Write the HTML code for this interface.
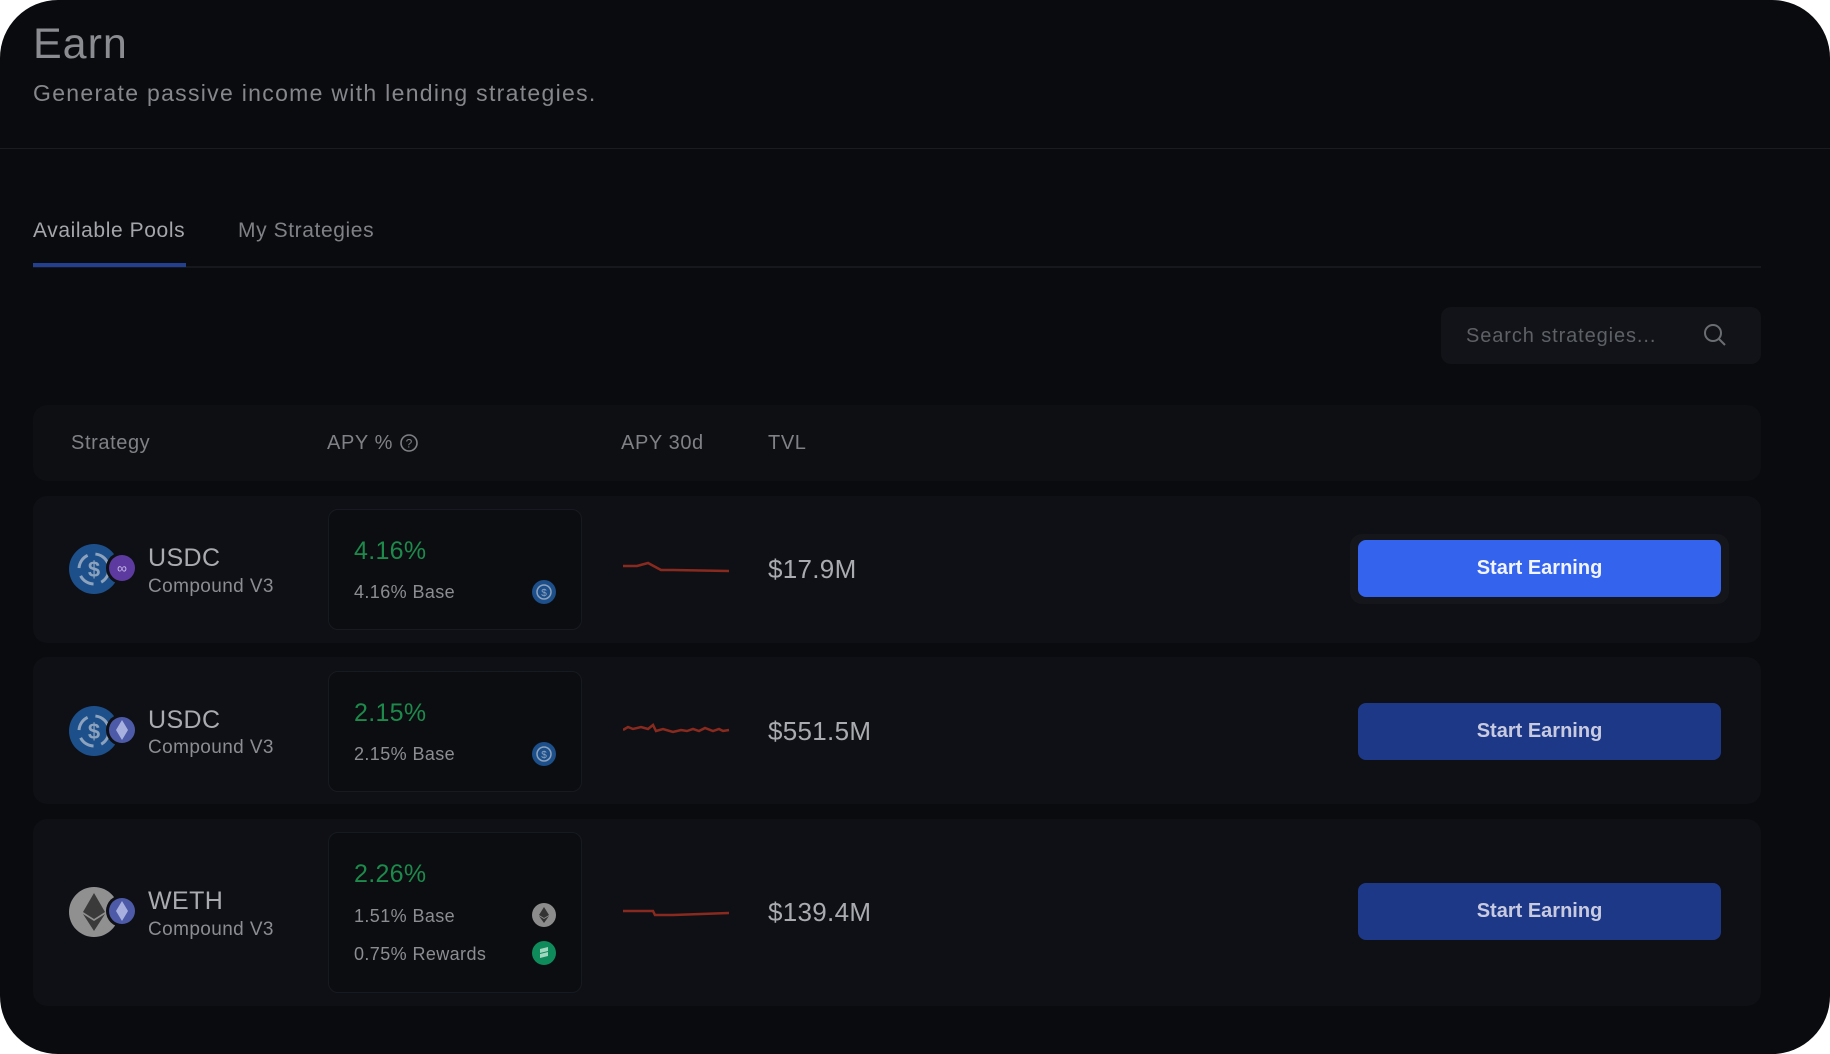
<!DOCTYPE html>
<html><head><meta charset="utf-8"><style>
html,body{margin:0;padding:0;background:#fff;}
body{width:1830px;height:1054px;position:relative;overflow:hidden;font-family:"Liberation Sans",sans-serif;}
.frame{position:absolute;left:0;top:0;width:1830px;height:1054px;background:#0a0b0e;border-radius:58px;overflow:hidden;}
.a{position:absolute;}
.t{position:absolute;white-space:nowrap;line-height:1;letter-spacing:0.6px;}
.row{position:absolute;left:33px;width:1728px;background:#0e1015;border-radius:14px;}
.box{position:absolute;left:328px;width:254px;border:1px solid #171a20;border-radius:10px;background:#0b0d11;box-sizing:border-box;}
.btn{position:absolute;left:1358px;width:363px;height:57px;border-radius:8px;color:#c8cbe0;font-weight:bold;font-size:20px;text-align:center;line-height:57px;}
.name{font-size:25px;color:#a9abb0;letter-spacing:0.4px;}
.sub{font-size:19px;color:#8b8d92;letter-spacing:0.4px;}
.g{font-size:25px;color:#1d8a4c;letter-spacing:0.3px;}
.s{font-size:18px;color:#8b8d92;letter-spacing:0.4px;}
.tvl{font-size:26px;color:#a9abb0;letter-spacing:0.3px;}
</style></head><body>
<div class="frame">
<div class="t" style="left:33px;top:23px;font-size:43px;color:#8a8c91;letter-spacing:1px;">Earn</div>
<div class="t" style="left:33px;top:82px;font-size:23px;color:#85878c;letter-spacing:1.3px;">Generate passive income with lending strategies.</div>
<div class="a" style="left:0;top:148px;width:1830px;height:1px;background:#1a1c21;"></div>

<div class="t" style="left:33px;top:220px;font-size:21px;color:#a4a6ab;">Available Pools</div>
<div class="t" style="left:238px;top:220px;font-size:21px;color:#7f8186;">My Strategies</div>
<div class="a" style="left:33px;top:266px;width:1728px;height:2px;background:#16181d;"></div>
<div class="a" style="left:33px;top:263px;width:153px;height:4px;background:#22408f;"></div>

<div class="a" style="left:1441px;top:307px;width:320px;height:57px;background:#111318;border-radius:10px;"></div>
<div class="t" style="left:1466px;top:326px;font-size:20px;color:#5d6066;letter-spacing:0.9px;">Search strategies...</div>
<svg class="a" style="left:1702px;top:322px" width="26" height="26" viewBox="0 0 26 26"><circle cx="11" cy="11" r="8" fill="none" stroke="#6a6d72" stroke-width="2"/><line x1="17" y1="17" x2="23" y2="23" stroke="#6a6d72" stroke-width="2"/></svg>

<div class="row" style="top:405px;height:76px;background:#0d0f13;"></div>
<div class="t" style="left:71px;top:433px;font-size:20px;color:#7f8186;">Strategy</div>
<div class="t" style="left:327px;top:433px;font-size:20px;color:#7f8186;">APY %</div>
<svg class="a" style="left:399px;top:433px" width="20" height="20"><circle cx="10" cy="10" r="8" fill="none" stroke="#7f8186" stroke-width="1.6"/><text x="10" y="14.5" font-size="12" fill="#7f8186" text-anchor="middle" font-family="Liberation Sans">?</text></svg>
<div class="t" style="left:621px;top:433px;font-size:20px;color:#7f8186;">APY 30d</div>
<div class="t" style="left:768px;top:433px;font-size:20px;color:#7f8186;">TVL</div>

<!-- row 1 -->
<div class="row" style="top:496px;height:147px;"></div>
<svg class="a" style="left:68px;top:542px" width="74" height="54"><circle cx="26" cy="27" r="25" fill="#1d4f8a"/><circle cx="26" cy="27" r="15" fill="none" stroke="#8da3bd" stroke-width="3" stroke-dasharray="16 8"/><text x="26" y="35" font-size="22" fill="#8da3bd" text-anchor="middle" font-family="Liberation Sans" font-weight="bold">$</text><circle cx="54" cy="26" r="16" fill="#0e1015"/><circle cx="54" cy="26" r="13" fill="#5d3aa0"/><text x="54" y="31" font-size="14" fill="#c4b5e5" text-anchor="middle" font-family="Liberation Sans">∞</text></svg>
<div class="t name" style="left:148px;top:546px;">USDC</div>
<div class="t sub" style="left:148px;top:577px;">Compound V3</div>
<div class="box" style="top:509px;height:121px;"></div>
<div class="t g" style="left:354px;top:539px;">4.16%</div>
<div class="t s" style="left:354px;top:583px;">4.16% Base</div>
<svg class="a" style="left:532px;top:580px" width="24" height="24"><circle cx="12" cy="12" r="12" fill="#1d4f8a"/><circle cx="12" cy="12" r="7" fill="none" stroke="#8da3bd" stroke-width="1.5"/><text x="12" y="16" font-size="10" fill="#8da3bd" text-anchor="middle" font-family="Liberation Sans">$</text></svg>
<svg class="a" style="left:623px;top:556px" width="108" height="24"><polyline points="0,10 14,10 25,7 38,14 50,14 106,15" fill="none" stroke="#8a2a1e" stroke-width="2.5"/></svg>
<div class="t tvl" style="left:768px;top:556px;">$17.9M</div>
<div class="a" style="left:1350px;top:534px;width:379px;height:70px;background:#14161c;border-radius:12px;"></div>
<div class="btn" style="top:540px;background:#3464ee;color:#f2f4ff;">Start Earning</div>

<!-- row 2 -->
<div class="row" style="top:657px;height:147px;"></div>
<svg class="a" style="left:68px;top:704px" width="74" height="54"><circle cx="26" cy="27" r="25" fill="#1d4f8a"/><circle cx="26" cy="27" r="15" fill="none" stroke="#8da3bd" stroke-width="3" stroke-dasharray="16 8"/><text x="26" y="35" font-size="22" fill="#8da3bd" text-anchor="middle" font-family="Liberation Sans" font-weight="bold">$</text><circle cx="54" cy="26" r="16" fill="#0e1015"/><circle cx="54" cy="26" r="13" fill="#4d5aa8"/><polygon points="54,16 60,26 54,36 48,26" fill="#a8b0e0"/></svg>
<div class="t name" style="left:148px;top:708px;">USDC</div>
<div class="t sub" style="left:148px;top:738px;">Compound V3</div>
<div class="box" style="top:671px;height:121px;"></div>
<div class="t g" style="left:354px;top:701px;">2.15%</div>
<div class="t s" style="left:354px;top:745px;">2.15% Base</div>
<svg class="a" style="left:532px;top:742px" width="24" height="24"><circle cx="12" cy="12" r="12" fill="#1d4f8a"/><circle cx="12" cy="12" r="7" fill="none" stroke="#8da3bd" stroke-width="1.5"/><text x="12" y="16" font-size="10" fill="#8da3bd" text-anchor="middle" font-family="Liberation Sans">$</text></svg>
<svg class="a" style="left:623px;top:718px" width="108" height="24"><polyline points="0,12 5,9 10,11 18,9 25,11 30,7 33,13 40,11 50,14 58,12 64,13 70,11 76,13 82,10 90,13 96,11 100,13 106,12" fill="none" stroke="#8a2a1e" stroke-width="2.5"/></svg>
<div class="t tvl" style="left:768px;top:718px;">$551.5M</div>
<div class="btn" style="top:703px;background:#1e3888;">Start Earning</div>

<!-- row 3 -->
<div class="row" style="top:819px;height:187px;"></div>
<svg class="a" style="left:68px;top:885px" width="74" height="54"><circle cx="26" cy="27" r="25" fill="#909090"/><polygon points="26,8 37,27 26,34 15,27" fill="#3a3a3a"/><polygon points="26,36 37,29 26,46 15,29" fill="#3a3a3a"/><circle cx="54" cy="26" r="16" fill="#0e1015"/><circle cx="54" cy="26" r="13" fill="#4d5aa8"/><polygon points="54,16 60,26 54,36 48,26" fill="#a8b0e0"/></svg>
<div class="t name" style="left:148px;top:889px;">WETH</div>
<div class="t sub" style="left:148px;top:920px;">Compound V3</div>
<div class="box" style="top:832px;height:161px;"></div>
<div class="t g" style="left:354px;top:862px;">2.26%</div>
<div class="t s" style="left:354px;top:907px;">1.51% Base</div>
<svg class="a" style="left:532px;top:903px" width="24" height="24"><circle cx="12" cy="12" r="12" fill="#8c8c8c"/><polygon points="12,4 17,12 12,15 7,12" fill="#333"/><polygon points="12,16 17,13 12,20 7,13" fill="#333"/></svg>
<div class="t s" style="left:354px;top:945px;">0.75% Rewards</div>
<svg class="a" style="left:532px;top:941px" width="24" height="24"><circle cx="12" cy="12" r="12" fill="#0f8a5a"/><path d="M8 8 L16 6 L16 10 L8 12 Z M8 13 L16 11 L16 15 L8 17 Z" fill="#9fd8bf"/></svg>
<svg class="a" style="left:623px;top:900px" width="108" height="24"><polyline points="0,11 30,11 32,15 50,15 106,13" fill="none" stroke="#8a2a1e" stroke-width="2.5"/></svg>
<div class="t tvl" style="left:768px;top:899px;">$139.4M</div>
<div class="btn" style="top:883px;background:#1e3888;">Start Earning</div>
</div>
</body></html>
